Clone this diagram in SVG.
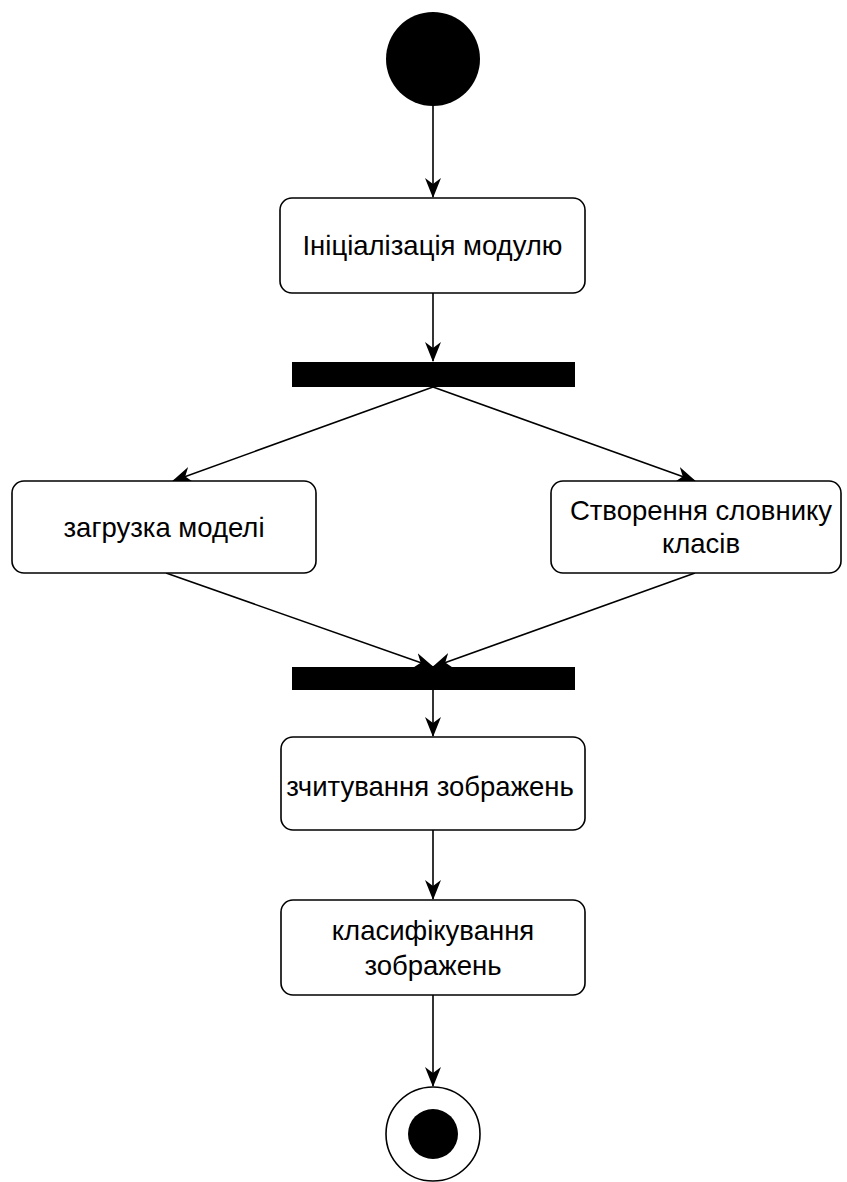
<svg xmlns="http://www.w3.org/2000/svg" width="847" height="1182" viewBox="0 0 847 1182">
  <style>
    .act { fill: #ffffff; stroke: #000000; stroke-width: 1.6; }
    .bar { fill: #000000; stroke: none; }
    .lbl { font-family: "Liberation Sans", Arial, sans-serif; font-size: 27.5px; fill: #000000; text-anchor: middle; dominant-baseline: central; }
    .edge { fill: none; stroke: #000000; stroke-width: 1.6; marker-end: url(#arrow); }
  </style>
  <defs>
    <marker id="arrow" viewBox="0 0 20 16" refX="19" refY="8" markerWidth="20" markerHeight="16" markerUnits="userSpaceOnUse" orient="auto">
      <path d="M0,0 L20,8 L0,16 L6,8 Z" fill="#000000"/>
    </marker>
  </defs>
  <rect width="847" height="1182" fill="#ffffff"/>

  <g id="connectors">
    <path class="edge" d="M433,106 L433,197"/>
    <path class="edge" d="M433,293 L433,361"/>
    <path class="edge" d="M433,387 L173,481"/>
    <path class="edge" d="M433,387 L695,481"/>
    <path class="edge" d="M166,573 L433,667"/>
    <path class="edge" d="M695,573 L433,667"/>
    <path class="edge" d="M433,690 L433,736"/>
    <path class="edge" d="M433,830 L433,899"/>
    <path class="edge" d="M433,995 L433,1086"/>
  </g>

  <g id="start">
    <circle cx="433" cy="59" r="47" fill="#000000"/>
  </g>

  <g id="init">
    <rect class="act" x="280" y="198" width="305" height="95" rx="12"/>
    <text class="lbl" x="432.5" y="245">Ініціалізація модулю</text>
  </g>

  <g id="fork">
    <rect class="bar" x="292" y="362" width="283" height="25"/>
  </g>

  <g id="load-model">
    <rect class="act" x="12" y="481" width="304" height="92" rx="12"/>
    <text class="lbl" x="164" y="527">загрузка моделі</text>
  </g>

  <g id="class-dict">
    <rect class="act" x="551" y="481" width="290" height="92" rx="12"/>
    <text class="lbl" x="701" y="510">Створення словнику</text>
    <text class="lbl" x="701" y="543">класів</text>
  </g>

  <g id="join">
    <rect class="bar" x="292" y="667" width="283" height="23"/>
  </g>

  <g id="read-images">
    <rect class="act" x="281" y="737" width="304" height="93" rx="12"/>
    <text class="lbl" x="430" y="786">зчитування зображень</text>
  </g>

  <g id="classify">
    <rect class="act" x="281" y="900" width="304" height="95" rx="12"/>
    <text class="lbl" x="433" y="930">класифікування</text>
    <text class="lbl" x="433" y="965">зображень</text>
  </g>

  <g id="end">
    <circle cx="433" cy="1134" r="47" fill="#ffffff" stroke="#000000" stroke-width="1.6"/>
    <circle cx="433" cy="1134" r="25" fill="#000000"/>
  </g>
</svg>
